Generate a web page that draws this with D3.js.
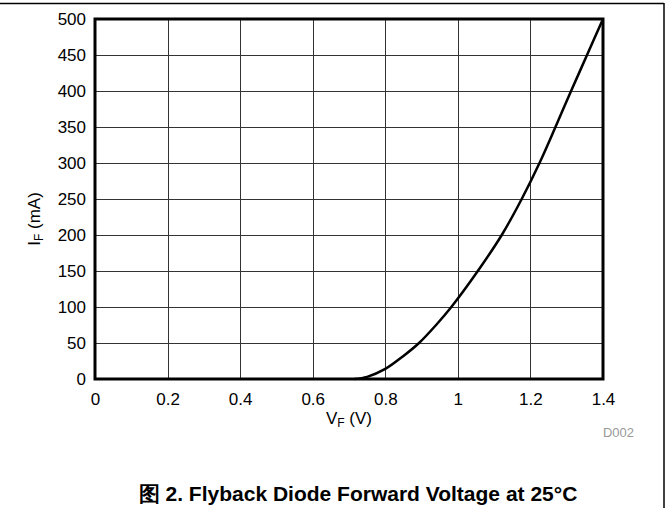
<!DOCTYPE html>
<html>
<head>
<meta charset="utf-8">
<script src="https://cdn.jsdelivr.net/npm/d3@7"></script>
<style>
  body { margin: 0; background: #fff; }
  text { font-family: "Liberation Sans", Arial, sans-serif; }
</style>
</head>
<body>
<svg width="669" height="508"></svg>
<script>
// Forward voltage (V) and current (mA)
var vf = [0.715, 0.75, 0.8, 0.85, 0.893, 0.94, 0.982, 1.055, 1.121, 1.176, 1.225, 1.269, 1.312, 1.356, 1.4];
var iF = [0, 3, 14, 32, 50, 75, 100, 150, 200, 250, 300, 350, 400, 450, 500];

var xTicks = [0, 0.2, 0.4, 0.6, 0.8, 1, 1.2, 1.4];
var yTicks = [0, 50, 100, 150, 200, 250, 300, 350, 400, 450, 500];

var svg = d3.select('svg');
var svgWidth = +svg.attr('width');
var svgHeight = +svg.attr('height');

var padding = { t: 19, r: 66, b: 129, l: 95 };
var chartWidth = svgWidth - padding.l - padding.r;
var chartHeight = svgHeight - padding.t - padding.b;

// outer frame (top and right edges visible)
svg.append('line').attr('x1', 0).attr('x2', 664).attr('y1', 3.5).attr('y2', 3.5)
    .attr('stroke', '#000').attr('stroke-width', 1.5);
svg.append('line').attr('x1', 664).attr('x2', 664).attr('y1', 3).attr('y2', svgHeight)
    .attr('stroke', '#000').attr('stroke-width', 1.5);

var chartG = svg.append('g')
    .attr('transform', 'translate(' + [padding.l, padding.t] + ')');

var xScale = d3.scaleLinear().domain([0, 1.4]).range([0, chartWidth]);
var yScale = d3.scaleLinear().domain([0, 500]).range([chartHeight, 0]);

// grid
chartG.selectAll('.vgrid').data(xTicks).enter().append('line')
    .attr('class', 'vgrid')
    .attr('x1', d => Math.round(xScale(d)) + 0.5).attr('x2', d => Math.round(xScale(d)) + 0.5)
    .attr('y1', 0).attr('y2', chartHeight)
    .attr('stroke', '#333').attr('stroke-width', 1);
chartG.selectAll('.hgrid').data(yTicks).enter().append('line')
    .attr('class', 'hgrid')
    .attr('y1', d => Math.round(yScale(d)) + 0.5).attr('y2', d => Math.round(yScale(d)) + 0.5)
    .attr('x1', 0).attr('x2', chartWidth)
    .attr('stroke', '#333').attr('stroke-width', 1);

// axes (labels only)
var xAxis = d3.axisBottom(xScale).tickValues(xTicks).tickSize(0).tickPadding(14)
    .tickFormat(d => d3.format('')(d));
var xg = chartG.append('g').attr('transform', 'translate(0,' + chartHeight + ')').call(xAxis);
var yAxis = d3.axisLeft(yScale).tickValues(yTicks).tickSize(0).tickPadding(9);
var yg = chartG.append('g').call(yAxis);
[xg, yg].forEach(function (g) {
    g.select('.domain').remove();
    g.selectAll('text').attr('font-size', 17).attr('fill', '#000')
        .attr('font-family', '"Liberation Sans", Arial, sans-serif');
});

// curve
var line = d3.line()
    .x((d, i) => xScale(vf[i]))
    .y(d => yScale(d))
    .curve(d3.curveCatmullRom.alpha(0.5));
chartG.append('path')
    .datum(iF)
    .attr('d', line)
    .attr('fill', 'none')
    .attr('stroke', '#000')
    .attr('stroke-width', 2.5);

// plot frame
chartG.append('rect')
    .attr('x', 0).attr('y', 0).attr('width', chartWidth).attr('height', chartHeight)
    .attr('fill', 'none').attr('stroke', '#000').attr('stroke-width', 3);

// axis titles
var xl = svg.append('text')
    .attr('x', padding.l + xScale(0.7)).attr('y', 424)
    .attr('text-anchor', 'middle').attr('font-size', 17);
xl.append('tspan').text('V');
xl.append('tspan').attr('font-size', 12).attr('dy', 3).text('F');
xl.append('tspan').attr('dy', -3).text(' (V)');

var yl = svg.append('text')
    .attr('transform', 'translate(40,' + (padding.t + chartHeight / 2 + 20) + ') rotate(-90)')
    .attr('text-anchor', 'middle').attr('font-size', 17);
yl.append('tspan').text('I');
yl.append('tspan').attr('font-size', 12).attr('dy', 3).text('F');
yl.append('tspan').attr('dy', -3).text(' (mA)');

svg.append('text')
    .attr('x', 634).attr('y', 437)
    .attr('text-anchor', 'end').attr('font-size', 13).attr('fill', '#999')
    .text('D002');

svg.append('text')
    .attr('x', 358).attr('y', 501)
    .attr('text-anchor', 'middle').attr('font-size', 21).attr('font-weight', 'bold')
    .text('图 2. Flyback Diode Forward Voltage at 25°C');
</script>
</body>
</html>
